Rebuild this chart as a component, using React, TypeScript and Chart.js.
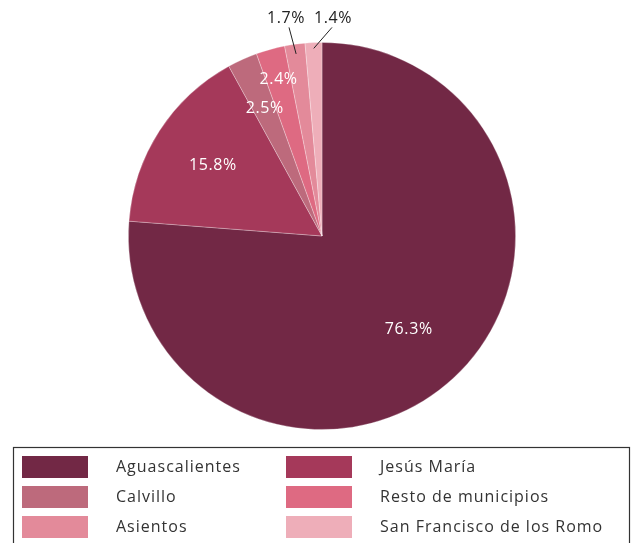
import React, { useEffect, useRef } from "react";
import { Chart, registerables } from "chart.js";

Chart.register(...registerables);

const categories = [
  "Aguascalientes",
  "Jesús María",
  "Calvillo",
  "Resto de municipios",
  "Asientos",
  "San Francisco de los Romo",
];
const shares = [76.3, 15.8, 2.5, 2.4, 1.7, 1.4];
const shareLabels = ["76.3%", "15.8%", "2.5%", "2.4%", "1.7%", "1.4%"];
const colors = ["#722845", "#a5395a", "#bd6a7c", "#de6a82", "#e38a9a", "#eeaeb9"];

const FONT = "'Open Sans', sans-serif";

const labelPlugin = {
  id: "sliceLabels",
  afterDatasetsDraw(chart: any) {
    const ctx = chart.ctx;
    const meta = chart.getDatasetMeta(0);
    const radFrac = [0.66, 0.67, 0.72, 0.84];
    ctx.save();
    ctx.font = `16px ${FONT}`;
    (ctx as any).letterSpacing = "0.6px";
    ctx.textAlign = "center";
    ctx.textBaseline = "middle";
    meta.data.forEach((arc: any, i: number) => {
      const { x, y, startAngle, endAngle, outerRadius } = arc.getProps(
        ["x", "y", "startAngle", "endAngle", "outerRadius"],
        true
      );
      const mid = (startAngle + endAngle) / 2;
      if (i < 4) {
        const r = outerRadius * radFrac[i];
        ctx.fillStyle = "#ffffff";
        ctx.fillText(shareLabels[i], x + Math.cos(mid) * r, y + Math.sin(mid) * r);
      } else {
        const r0 = outerRadius * (i === 4 ? 0.95 : 0.97);
        const sx = x + Math.cos(mid) * r0;
        const sy = y + Math.sin(mid) * r0;
        const top = y - outerRadius;
        const ex = i === 4 ? x - 33 : x + 10;
        const ey = top - 15;
        ctx.strokeStyle = "#222";
        ctx.lineWidth = 1;
        ctx.beginPath();
        ctx.moveTo(sx, sy);
        ctx.lineTo(ex, ey);
        ctx.stroke();
        ctx.fillStyle = "#222";
        ctx.fillText(shareLabels[i], i === 4 ? x - 36 : x + 11, top - 24);
      }
    });
    ctx.restore();
  },
};

const legendPlugin = {
  id: "boxLegend",
  afterDraw(chart: any) {
    const ctx = chart.ctx;
    const labels = chart.data.labels as string[];
    const bg = chart.data.datasets[0].backgroundColor as string[];
    ctx.save();
    ctx.strokeStyle = "#333";
    ctx.lineWidth = 1.2;
    ctx.strokeRect(13.5, 447.5, 616, 110);
    ctx.font = `16px ${FONT}`;
    (ctx as any).letterSpacing = "1px";
    ctx.textAlign = "left";
    ctx.textBaseline = "middle";
    labels.forEach((lab, i) => {
      const col = i % 2;
      const row = Math.floor(i / 2);
      const sx = col === 0 ? 22 : 286;
      const cy = 467 + row * 30;
      ctx.fillStyle = bg[i];
      ctx.fillRect(sx, cy - 11, 66, 22);
      ctx.fillStyle = "#333";
      ctx.fillText(lab, sx + 94, cy);
    });
    ctx.restore();
  },
};

export default function App() {
  const ref = useRef<HTMLCanvasElement>(null);
  useEffect(() => {
    if (!ref.current) return;
    const chart = new Chart(ref.current, {
      type: "pie",
      data: {
        labels: categories,
        datasets: [
          {
            data: shares,
            backgroundColor: colors,
            borderColor: "rgba(255,255,255,0.35)",
            borderWidth: 0.8,
          },
        ],
      },
      options: {
        animation: false,
        responsive: false,
        layout: { padding: { top: 42, bottom: 113, left: 128, right: 116 } },
        plugins: {
          legend: { display: false },
          tooltip: { enabled: false },
        },
      },
      plugins: [labelPlugin, legendPlugin],
    });
    return () => chart.destroy();
  }, []);
  return (
    <div style={{ position: "fixed", left: 0, top: 0, width: 632, height: 543, background: "#fff" }}>
      <canvas ref={ref} width={632} height={543} style={{ width: 632, height: 543 }} />
    </div>
  );
}
